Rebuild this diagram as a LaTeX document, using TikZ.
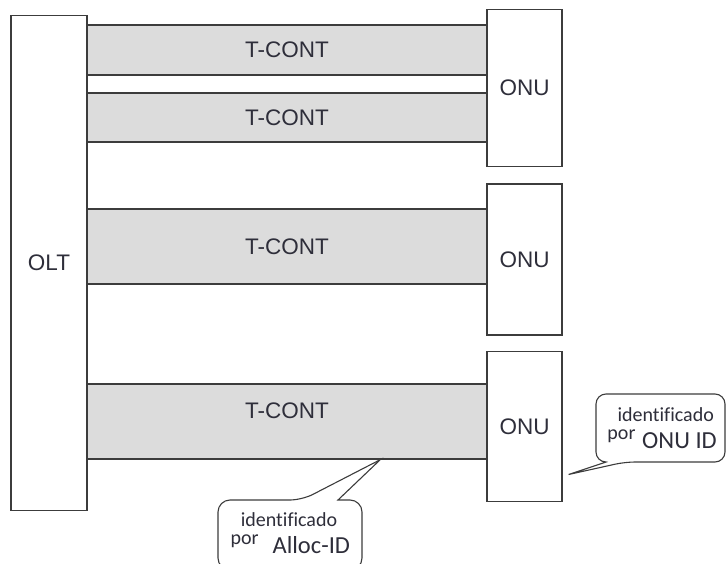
\documentclass[tikz,border=0pt]{standalone}
\usepackage{fontspec}
\usetikzlibrary{calc}
\setmainfont{Liberation Sans}
\newfontfamily\calloutfont[Ligatures=CommonOff]{Carlito}
\definecolor{edge}{HTML}{3C3C3C}
\definecolor{barfill}{HTML}{DCDCDC}
\definecolor{ink}{HTML}{2E2E3A}
\begin{document}
\begin{tikzpicture}[x=1pt,y=-1pt,
  box/.style={draw=edge, line width=1.3pt, fill=white, inner sep=0pt,
    text=ink, font=\fontsize{22.5}{25}\selectfont},
  tcont/.style={draw=edge, line width=1.3pt, fill=barfill, inner sep=0pt,
    minimum width=400pt, text=ink, font=\fontsize{22.5}{25}\selectfont},
  label/.style={inner sep=0pt, text=ink, font=\fontsize{22.5}{25}\selectfont},
  callout/.style={draw=edge, line width=1.1pt, fill=white},
  small/.style={inner sep=0pt, anchor=base, text=ink, font=\calloutfont\fontsize{20}{22}\selectfont},
  big/.style={inner sep=0pt, anchor=base, text=ink, font=\calloutfont\fontsize{24.5}{27}\selectfont}]
\useasboundingbox (0,0) rectangle (728,564);

% T-CONT bars between the OLT and the ONUs
\node[tcont, minimum height=50pt] (b1) at (287,50) {T-CONT};
\node[tcont, minimum height=49pt] (b2) at (287,117.5) {T-CONT};
\node[tcont, minimum height=75pt] (b3) at (287,246.5) {T-CONT};
\node[tcont, minimum height=75pt] (b4) at (287,421.5) {};
\node[label] (t4) at (287,411) {T-CONT};

% OLT and ONU boxes
\node[box, minimum width=76pt, minimum height=495.5pt] (olt) at (49,263) {OLT};
\node[box, minimum width=75pt, minimum height=157.5pt] (onu1) at (524.5,88) {ONU};
\node[box, minimum width=75pt, minimum height=151pt] (onu2) at (524.5,259.5) {ONU};
\node[box, minimum width=75pt, minimum height=150pt] (onu3) at (524.5,426.5) {ONU};

% callout for the Alloc-ID, pointing at the lower T-CONT
\coordinate (tipA) at ($(b4.south west)!0.7325!(b4.south east)$);
\draw[callout] (302,500) -- (tipA) -- (338,500)
  [rounded corners=12pt] -- (362,500) -- (362,570) -- (218,570) -- (218,500) -- cycle;
\node[small] (idA) at (289,526) {identificado};
\node[small] (porA) at (244.7,544.3) {por};
\node[big] (allocid) at (311.3,553.3) {Alloc-ID};

% callout for the ONU ID, pointing at the lower ONU
\coordinate (tipB) at ($(onu3.east)+(6,48)$);
\draw[callout] (625,462) -- (tipB) -- (606,462)
  [rounded corners=10pt] -- (596,462) -- (596,394) -- (725,394) -- (725,462) -- cycle;
\node[small] (idB) at (665.7,421.3) {identificado};
\node[small] (porB) at (621.5,439.7) {por};
\node[big] (onuid) at (679.5,448) {ONU ID};
\end{tikzpicture}
\end{document}
